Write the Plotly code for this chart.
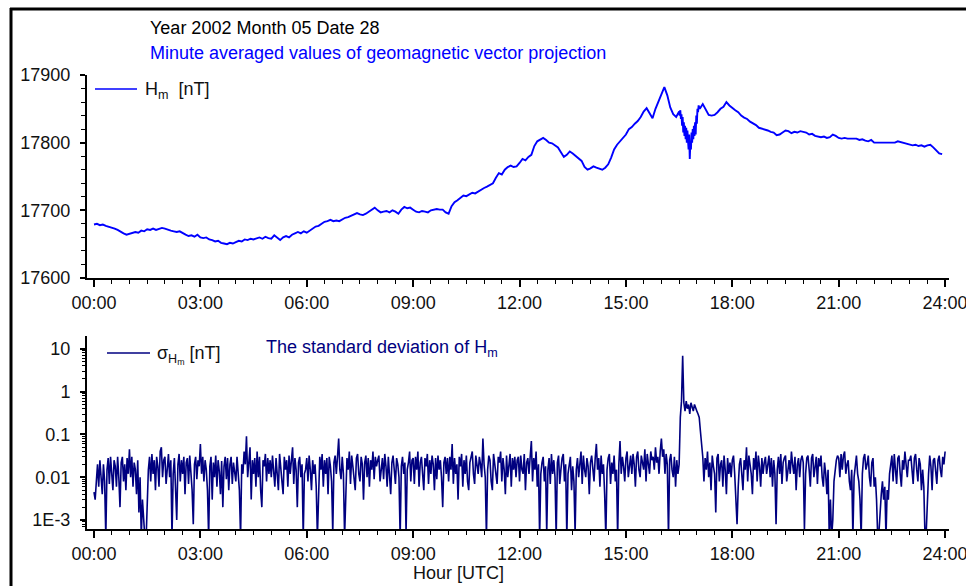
import plotly.graph_objects as go

# ---------------- data ----------------
tick_hours = [0, 3, 6, 9, 12, 15, 18, 21, 24]
tick_labels = ["00:00", "03:00", "06:00", "09:00", "12:00", "15:00", "18:00", "21:00", "24:00"]
h_ticks = [17600, 17700, 17800, 17900]
h_tick_labels = ["17600", "17700", "17800", "17900"]
sigma_ticks = [0.001, 0.01, 0.1, 1, 10]
sigma_tick_labels = ["1E-3", "0.01", "0.1", "1", "10"]

# H_m [nT], every 5 min from 00:00 to 16:25
h_early = [
    17679, 17680, 17678, 17679, 17677, 17676, 17675, 17673, 17671, 17668, 17666, 17664,
    17665, 17667, 17668, 17667, 17670, 17669, 17672, 17671, 17673, 17671, 17672, 17674,
    17673, 17671, 17670, 17669, 17668, 17669, 17666, 17664, 17662, 17663, 17661, 17664,
    17660, 17659, 17660, 17657, 17656, 17654, 17655, 17652, 17651, 17650, 17652, 17651,
    17653, 17655, 17654, 17657, 17656, 17658, 17657, 17659, 17660, 17658, 17661, 17659,
    17658, 17663, 17659, 17656, 17660, 17662, 17660, 17664, 17666, 17668, 17666, 17669,
    17667, 17670, 17673, 17676, 17677, 17680, 17683, 17684, 17686, 17684, 17685, 17684,
    17687, 17689, 17690, 17692, 17695, 17696, 17694, 17693, 17695, 17698, 17702, 17704,
    17700, 17697, 17698, 17699, 17697, 17700, 17698, 17695, 17701, 17705, 17703, 17704,
    17701, 17698, 17697, 17699, 17698, 17697, 17700, 17701, 17702, 17701, 17701, 17697,
    17695, 17706, 17712, 17715, 17719, 17722, 17721, 17724, 17726, 17725, 17728, 17731,
    17733, 17735, 17738, 17740, 17748, 17755, 17753, 17760, 17764, 17766, 17764, 17765,
    17770, 17776, 17774, 17779, 17782, 17795, 17802, 17805, 17807, 17804, 17800, 17799,
    17796, 17793, 17786, 17779, 17782, 17787, 17784, 17780, 17776, 17773, 17764, 17760,
    17762, 17765, 17763, 17761, 17760, 17763, 17768, 17778, 17790, 17797, 17802, 17808,
    17812, 17820, 17823, 17828, 17832, 17838, 17846, 17851, 17844, 17836, 17850, 17860,
    17872, 17882, 17870, 17852, 17842, 17838,
]
# H_m [nT], every minute from 16:30 to 17:04 (disturbed interval)
h_storm = [
    17846, 17840, 17848, 17835, 17842, 17825, 17838, 17815, 17830, 17810,
    17825, 17805, 17822, 17800, 17818, 17808, 17790, 17812, 17776, 17800,
    17790, 17815, 17800, 17820, 17805, 17825, 17810, 17830, 17812, 17840,
    17828, 17850, 17845, 17855, 17850,
]
# H_m [nT], every 5 min from 17:05 to 23:55
h_late = [
    17850, 17857, 17850, 17841, 17840, 17841, 17845, 17850, 17853, 17860, 17855,
    17851, 17848, 17845, 17840, 17837, 17835, 17831, 17829, 17826, 17822, 17821, 17819,
    17818, 17816, 17815, 17811, 17812, 17815, 17818, 17817, 17814, 17816, 17815, 17817,
    17816, 17815, 17812, 17813, 17810, 17809, 17808, 17809, 17807, 17808, 17812, 17810,
    17807, 17806, 17807, 17806, 17806, 17805, 17806, 17804, 17805, 17803, 17802, 17804,
    17800, 17800, 17800, 17800, 17800, 17800, 17799, 17800, 17802, 17801, 17799, 17798,
    17797, 17796, 17797, 17795, 17796, 17794, 17796, 17797, 17793, 17788, 17784, 17783,
]

# standard deviation of H_m [nT], every 2 min from 00:00 to 23:58 (one row per hour), plus 24:00
sigma = [
    0.0045, 0.003, 0.008, 0.02, 0.006, 0.025, 0.01, 0.004, 0.02, 0.008, 0.0004, 0.015, 0.028, 0.007, 0.03, 0.012, 0.005, 0.025, 0.018, 0.006, 0.03, 0.01, 0.002, 0.022, 0.03, 0.008, 0.02, 0.005, 0.028, 0.012,
    0.045, 0.01, 0.03, 0.006, 0.022, 0.015, 0.004, 0.025, 0.0015, 0.01, 0.0004, 0.003, 0.0005, 0.0004, 0.0003, 0.004, 0.015, 0.03, 0.008, 0.035, 0.012, 0.025, 0.005, 0.03, 0.018, 0.006, 0.04, 0.05, 0.01, 0.025,
    0.03, 0.007, 0.022, 0.035, 0.01, 0.025, 0.0004, 0.012, 0.028, 0.006, 0.001, 0.02, 0.035, 0.008, 0.025, 0.012, 0.03, 0.004, 0.022, 0.028, 0.007, 0.032, 0.015, 0.005, 0.0008, 0.02, 0.03, 0.009, 0.025, 0.018,
    0.06, 0.012, 0.03, 0.008, 0.025, 0.015, 0.005, 0.0004, 0.018, 0.03, 0.003, 0.022, 0.01, 0.032, 0.006, 0.025, 0.014, 0.004, 0.024, 0.002, 0.018, 0.03, 0.009, 0.028, 0.005, 0.02, 0.03, 0.007, 0.022, 0.012,
    0.008, 0.03, 0.015, 0.005, 0.0004, 0.02, 0.012, 0.04, 0.02, 0.09, 0.01, 0.03, 0.05, 0.003, 0.025, 0.012, 0.028, 0.006, 0.04, 0.01, 0.03, 0.005, 0.002, 0.025, 0.018, 0.035, 0.008, 0.028, 0.012, 0.025,
    0.01, 0.032, 0.015, 0.006, 0.028, 0.012, 0.005, 0.035, 0.02, 0.008, 0.004, 0.03, 0.015, 0.025, 0.006, 0.032, 0.012, 0.028, 0.05, 0.007, 0.028, 0.015, 0.002, 0.022, 0.03, 0.01, 0.02, 0.0004, 0.012, 0.015,
    0.028, 0.008, 0.032, 0.015, 0.005, 0.025, 0.012, 0.02, 0.006, 0.0004, 0.008, 0.03, 0.015, 0.035, 0.006, 0.025, 0.012, 0.028, 0.004, 0.03, 0.018, 0.008, 0.0005, 0.022, 0.032, 0.012, 0.03, 0.08, 0.015, 0.009,
    0.03, 0.012, 0.0004, 0.008, 0.028, 0.015, 0.04, 0.007, 0.032, 0.018, 0.01, 0.005, 0.028, 0.035, 0.012, 0.008, 0.03, 0.02, 0.003, 0.022, 0.032, 0.01, 0.028, 0.006, 0.025, 0.015, 0.04, 0.009, 0.03, 0.018,
    0.025, 0.032, 0.008, 0.015, 0.028, 0.009, 0.035, 0.018, 0.006, 0.03, 0.012, 0.004, 0.022, 0.032, 0.015, 0.007, 0.028, 0.02, 0.01, 0.0004, 0.018, 0.03, 0.012, 0.022, 0.0005, 0.015, 0.022, 0.04, 0.008, 0.025,
    0.028, 0.007, 0.03, 0.015, 0.04, 0.006, 0.022, 0.03, 0.012, 0.005, 0.028, 0.018, 0.035, 0.007, 0.025, 0.012, 0.032, 0.02, 0.005, 0.028, 0.009, 0.032, 0.015, 0.025, 0.01, 0.002, 0.022, 0.03, 0.012, 0.028,
    0.008, 0.03, 0.015, 0.06, 0.007, 0.028, 0.012, 0.02, 0.003, 0.03, 0.018, 0.035, 0.006, 0.025, 0.012, 0.032, 0.008, 0.005, 0.022, 0.028, 0.04, 0.012, 0.007, 0.032, 0.018, 0.012, 0.03, 0.02, 0.01, 0.08,
    0.02, 0.01, 0.0004, 0.015, 0.032, 0.025, 0.008, 0.005, 0.035, 0.018, 0.012, 0.007, 0.03, 0.022, 0.04, 0.008, 0.028, 0.015, 0.004, 0.032, 0.01, 0.022, 0.035, 0.006, 0.028, 0.015, 0.03, 0.01, 0.025, 0.03,
    0.008, 0.032, 0.015, 0.012, 0.035, 0.005, 0.022, 0.028, 0.012, 0.03, 0.07, 0.008, 0.028, 0.015, 0.04, 0.006, 0.02, 0.0004, 0.012, 0.022, 0.03, 0.008, 0.018, 0.0005, 0.015, 0.028, 0.007, 0.035, 0.012, 0.025,
    0.01, 0.0004, 0.022, 0.032, 0.007, 0.015, 0.028, 0.035, 0.008, 0.02, 0.0004, 0.012, 0.022, 0.03, 0.005, 0.018, 0.008, 0.0005, 0.015, 0.028, 0.01, 0.02, 0.04, 0.007, 0.032, 0.015, 0.01, 0.028, 0.018, 0.004,
    0.022, 0.032, 0.012, 0.008, 0.028, 0.06, 0.015, 0.028, 0.006, 0.032, 0.012, 0.02, 0.004, 0.0004, 0.015, 0.028, 0.035, 0.007, 0.022, 0.012, 0.032, 0.008, 0.015, 0.0004, 0.02, 0.07, 0.012, 0.03, 0.018, 0.008,
    0.028, 0.04, 0.01, 0.022, 0.032, 0.012, 0.035, 0.02, 0.006, 0.03, 0.04, 0.015, 0.01, 0.032, 0.022, 0.015, 0.045, 0.008, 0.035, 0.02, 0.012, 0.04, 0.025, 0.03, 0.015, 0.05, 0.022, 0.03, 0.012, 0.04,
    0.08, 0.03, 0.045, 0.012, 0.035, 0.02, 0.0004, 0.025, 0.035, 0.015, 0.01, 0.03, 0.006, 0.025, 0.012, 0.02, 0.25, 0.6, 6.9, 0.55, 0.35, 0.6, 0.4, 0.5, 0.3, 0.55, 0.45, 0.35, 0.5, 0.4,
    0.35, 0.3, 0.25, 0.12, 0.06, 0.03, 0.008, 0.028, 0.015, 0.04, 0.01, 0.022, 0.005, 0.032, 0.018, 0.012, 0.0015, 0.028, 0.035, 0.008, 0.02, 0.025, 0.006, 0.032, 0.015, 0.004, 0.028, 0.012, 0.022, 0.01,
    0.025, 0.032, 0.012, 0.002, 0.0008, 0.006, 0.02, 0.028, 0.012, 0.005, 0.025, 0.015, 0.05, 0.008, 0.032, 0.02, 0.012, 0.004, 0.028, 0.015, 0.04, 0.008, 0.032, 0.018, 0.006, 0.028, 0.012, 0.022, 0.03, 0.012,
    0.02, 0.032, 0.01, 0.028, 0.006, 0.025, 0.012, 0.0008, 0.015, 0.03, 0.012, 0.035, 0.007, 0.022, 0.028, 0.032, 0.008, 0.015, 0.025, 0.012, 0.04, 0.02, 0.012, 0.03, 0.005, 0.02, 0.028, 0.01, 0.025, 0.032,
    0.022, 0.0006, 0.012, 0.028, 0.032, 0.015, 0.006, 0.028, 0.035, 0.01, 0.02, 0.03, 0.007, 0.028, 0.018, 0.032, 0.01, 0.006, 0.022, 0.012, 0.004, 0.015, 0.0004, 0.003, 0.0004, 0.001, 0.008, 0.015, 0.025, 0.032,
    0.028, 0.01, 0.035, 0.015, 0.032, 0.04, 0.012, 0.02, 0.025, 0.008, 0.005, 0.015, 0.0004, 0.01, 0.022, 0.032, 0.012, 0.008, 0.003, 0.0004, 0.012, 0.028, 0.035, 0.015, 0.02, 0.032, 0.01, 0.006, 0.022, 0.028,
    0.006, 0.01, 0.003, 0.0004, 0.0005, 0.002, 0.004, 0.008, 0.003, 0.006, 0.0004, 0.005, 0.003, 0.012, 0.02, 0.032, 0.008, 0.035, 0.015, 0.007, 0.028, 0.032, 0.012, 0.006, 0.025, 0.015, 0.04, 0.02, 0.01, 0.025,
    0.025, 0.032, 0.012, 0.007, 0.028, 0.035, 0.015, 0.008, 0.028, 0.02, 0.005, 0.015, 0.006, 0.0004, 0.0005, 0.003, 0.012, 0.032, 0.018, 0.005, 0.025, 0.028, 0.012, 0.007, 0.025, 0.032, 0.015, 0.01, 0.03, 0.02,
    0.04,
]

# time axes (hours)
t_early = [m / 60 for m in range(0, 990, 5)]
t_storm = [m / 60 for m in range(990, 1025)]
t_late = [m / 60 for m in range(1025, 1440, 5)]
t_h = t_early + t_storm + t_late
h_vals = h_early + h_storm + h_late
t_sigma = [2 * i / 60 for i in range(len(sigma))]

# ---------------- figure ----------------
W, H = 966, 586
FONT = "Liberation Sans, Arial, sans-serif"
BLUE = "#0000ff"
NAVY = "#000080"


def px(x):
    return x / W


def py(y):
    return 1 - y / H


fig = go.Figure()
fig.add_trace(go.Scatter(x=t_h, y=h_vals, mode="lines",
                         line=dict(color=BLUE, width=1.9),
                         xaxis="x", yaxis="y", showlegend=False, hoverinfo="skip"))
fig.add_trace(go.Scatter(x=t_sigma, y=sigma, mode="lines",
                         line=dict(color=NAVY, width=1.6),
                         xaxis="x2", yaxis="y2", showlegend=False, hoverinfo="skip"))

xr = [-0.197, 24.11]
tickfont = dict(family=FONT, size=18, color="#111")
xcommon = dict(range=xr, tickmode="array", tickvals=tick_hours, ticktext=tick_labels,
               ticks="outside", ticklen=7, tickwidth=1.5, tickcolor="#000",
               showline=True, linecolor="#000", linewidth=2, showgrid=False, zeroline=False,
               automargin=False, ticklabeloverflow="allow", tickfont=tickfont,
               minor=dict(ticks="outside", ticklen=4, tickwidth=1.2, tickcolor="#000",
                          tickmode="linear", tick0=0, dtick=0.5, showgrid=False))

minor_log = [m * 10.0 ** e for e in range(-4, 2) for m in range(2, 10)]

fig.update_layout(
    template="none",
    width=W, height=H, margin=dict(l=0, r=0, t=0, b=0, pad=0, autoexpand=False),
    paper_bgcolor="white", plot_bgcolor="white", showlegend=False,
    font=dict(family=FONT, size=18, color="#111"),
    xaxis=dict(domain=[px(87), px(949)], anchor="y", **xcommon),
    yaxis=dict(domain=[py(278), py(75)], range=[17600, 17900], anchor="x",
               tickmode="array", tickvals=h_ticks, ticktext=h_tick_labels,
               ticks="outside", ticklen=5, tickwidth=1.5, tickcolor="#000",
               showline=True, linecolor="#000", linewidth=2, showgrid=False, zeroline=False,
               automargin=False, ticklabeloverflow="allow", ticklabelstandoff=6, tickfont=tickfont,
               minor=dict(ticks="outside", ticklen=4, tickwidth=1.2, tickcolor="#000",
                          tickmode="linear", tick0=17600, dtick=20, showgrid=False)),
    xaxis2=dict(domain=[px(87), px(949)], anchor="y2", **xcommon),
    yaxis2=dict(domain=[py(529), py(336)], type="log", range=[-3.21, 1.30], anchor="x2",
                tickmode="array", tickvals=sigma_ticks, ticktext=sigma_tick_labels,
                ticks="outside", ticklen=5, tickwidth=1.5, tickcolor="#000",
                showline=True, linecolor="#000", linewidth=2, showgrid=False, zeroline=False,
                automargin=False, ticklabeloverflow="allow", ticklabelstandoff=6, tickfont=tickfont,
                minor=dict(ticks="outside", ticklen=3, tickwidth=1, tickcolor="#000",
                           tickmode="array", tickvals=minor_log, showgrid=False)),
)

ann = [
    dict(x=px(148), y=py(28), text="Year 2002 Month 05 Date 28", color="#000"),
    dict(x=px(148), y=py(53), text="Minute averaged values of geomagnetic vector projection", color=BLUE),
    dict(x=px(143), y=py(91), text="H<sub>m</sub>  [nT]", color="#111"),
    dict(x=px(155), y=py(355), text="σ<sub>H<sub>m</sub></sub> [nT]", color="#111"),
    dict(x=px(264), y=py(348), text="The standard deviation of H<sub>m</sub>", color=NAVY),
]
for a in ann:
    fig.add_annotation(x=a["x"], y=a["y"], xref="paper", yref="paper", text=a["text"],
                       showarrow=False, xanchor="left", yanchor="middle",
                       font=dict(family=FONT, size=18, color=a["color"]))
fig.add_annotation(x=px(458), y=py(573), xref="paper", yref="paper", text="Hour [UTC]",
                   showarrow=False, xanchor="center", yanchor="middle",
                   font=dict(family=FONT, size=18, color="#111"))

# legend sample lines and outer frame
fig.add_shape(type="line", xref="paper", yref="paper", x0=px(95), x1=px(137), y0=py(89), y1=py(89),
              line=dict(color=BLUE, width=1.6))
fig.add_shape(type="line", xref="paper", yref="paper", x0=px(107), x1=px(150), y0=py(353), y1=py(353),
              line=dict(color=NAVY, width=1.6))
fig.add_shape(type="line", xref="paper", yref="paper", x0=px(11), x1=px(11), y0=py(8), y1=0,
              line=dict(color="#000", width=3))
fig.add_shape(type="line", xref="paper", yref="paper", x0=px(10), x1=1, y0=py(9), y1=py(9),
              line=dict(color="#000", width=3))

fig.write_html("out.html", config={"displayModeBar": False},
               post_script="document.body.style.margin='0';document.body.style.overflow='hidden';")
